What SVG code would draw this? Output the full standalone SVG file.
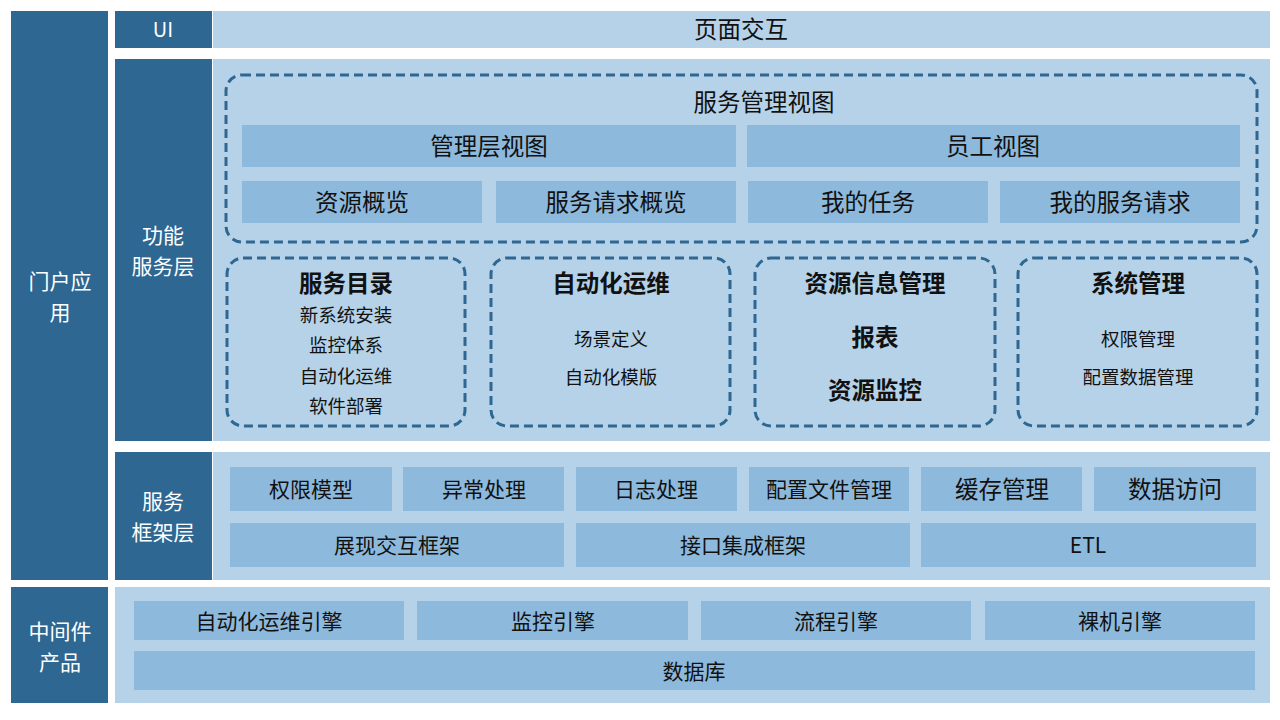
<svg xmlns="http://www.w3.org/2000/svg" width="1280" height="720" viewBox="0 0 1280 720">
<style>
.dk{fill:#2D6792}
.lt{fill:#B6D2E8}
.md{fill:#8DB9DC}
.dash{fill:none;stroke:#2D6792;stroke-width:3;stroke-dasharray:9 5}
text{font-family:"Noto Sans CJK SC","Noto Sans",sans-serif;text-anchor:middle;dominant-baseline:central;fill:#111}
.w{fill:#fff;font-size:21px}
.t24{font-size:23.5px}
.t21{font-size:21px}
.t18{font-size:18.5px}
.b{font-size:23.5px;font-weight:bold}
</style>
<rect width="1280" height="720" fill="#fff"/>
<g id="portal">
<rect class="dk" x="11" y="11" width="97" height="569"/>
<text class="w" x="60" y="280">门户应</text>
<text class="w" x="60" y="311">用</text>
</g>
<g id="ui-layer">
<rect class="dk" x="115" y="11" width="97" height="37"/>
<text class="w" x="163" y="28" style="font-size:20px">UI</text>
<rect class="lt" x="213" y="11" width="1057" height="37"/>
<text class="t24" x="741" y="28">页面交互</text>
</g>
<g id="func-layer">
<rect class="dk" x="115" y="59" width="97" height="382"/>
<text class="w" x="163" y="234">功能</text>
<text class="w" x="163" y="265">服务层</text>
<rect class="lt" x="213" y="59" width="1057" height="382"/>
</g>
<g id="service-view">
<rect class="dash" x="226" y="75" width="1031" height="167" rx="16"/>
<text class="t24" x="764" y="101">服务管理视图</text>
<rect class="md" x="242" y="125" width="494" height="42"/>
<text class="t24" x="489" y="145">管理层视图</text>
<rect class="md" x="747" y="125" width="493" height="42"/>
<text class="t24" x="993" y="145">员工视图</text>
<rect class="md" x="242" y="181" width="240" height="42"/>
<text class="t24" x="362" y="201">资源概览</text>
<rect class="md" x="496" y="181" width="240" height="42"/>
<text class="t24" x="616" y="201">服务请求概览</text>
<rect class="md" x="748" y="181" width="240" height="42"/>
<text class="t24" x="868" y="201">我的任务</text>
<rect class="md" x="1000" y="181" width="240" height="42"/>
<text class="t24" x="1120" y="201">我的服务请求</text>
</g>
<g id="catalog">
<rect class="dash" x="227" y="258" width="238" height="168" rx="16"/>
<text class="b" x="346" y="282">服务目录</text>
<text class="t18" x="346" y="314">新系统安装</text>
<text class="t18" x="346" y="344">监控体系</text>
<text class="t18" x="346" y="375">自动化运维</text>
<text class="t18" x="346" y="405">软件部署</text>
</g>
<g id="automation">
<rect class="dash" x="491" y="258" width="239" height="168" rx="16"/>
<text class="b" x="611" y="282">自动化运维</text>
<text class="t18" x="611" y="338">场景定义</text>
<text class="t18" x="611" y="376">自动化模版</text>
</g>
<g id="resource">
<rect class="dash" x="755" y="258" width="240" height="168" rx="16"/>
<text class="b" x="875" y="282">资源信息管理</text>
<text class="b" x="875" y="336">报表</text>
<text class="b" x="875" y="389">资源监控</text>
</g>
<g id="sysmgmt">
<rect class="dash" x="1018" y="258" width="239" height="168" rx="16"/>
<text class="b" x="1138" y="282">系统管理</text>
<text class="t18" x="1138" y="338">权限管理</text>
<text class="t18" x="1138" y="376">配置数据管理</text>
</g>
<g id="framework-layer">
<rect class="dk" x="115" y="452" width="97" height="128"/>
<text class="w" x="163" y="499.5">服务</text>
<text class="w" x="163" y="530.5">框架层</text>
<rect class="lt" x="213" y="452" width="1057" height="128"/>
<rect class="md" x="230" y="467" width="162" height="44"/>
<text class="t21" x="311" y="488">权限模型</text>
<rect class="md" x="403" y="467" width="161" height="44"/>
<text class="t21" x="484" y="488">异常处理</text>
<rect class="md" x="576" y="467" width="161" height="44"/>
<text class="t21" x="656" y="488">日志处理</text>
<rect class="md" x="749" y="467" width="160" height="44"/>
<text class="t21" x="829" y="488">配置文件管理</text>
<rect class="md" x="921" y="467" width="161" height="44"/>
<text class="t24" x="1002" y="488">缓存管理</text>
<rect class="md" x="1094" y="467" width="162" height="44"/>
<text class="t24" x="1175" y="488">数据访问</text>
<rect class="md" x="230" y="523" width="334" height="44"/>
<text class="t21" x="397" y="544">展现交互框架</text>
<rect class="md" x="576" y="523" width="334" height="44"/>
<text class="t21" x="743" y="544">接口集成框架</text>
<rect class="md" x="921" y="523" width="335" height="44"/>
<text class="t21" x="1088" y="544">ETL</text>
</g>
<g id="middleware">
<rect class="dk" x="11" y="587" width="97" height="116"/>
<text class="w" x="60" y="630">中间件</text>
<text class="w" x="60" y="661">产品</text>
<rect class="lt" x="115" y="587" width="1155" height="116"/>
<rect class="md" x="134" y="601" width="270" height="39"/>
<text class="t21" x="269" y="620">自动化运维引擎</text>
<rect class="md" x="417" y="601" width="271" height="39"/>
<text class="t21" x="553" y="620">监控引擎</text>
<rect class="md" x="701" y="601" width="270" height="39"/>
<text class="t21" x="836" y="620">流程引擎</text>
<rect class="md" x="985" y="601" width="270" height="39"/>
<text class="t21" x="1120" y="620">裸机引擎</text>
<rect class="md" x="134" y="651" width="1121" height="39"/>
<text class="t21" x="694" y="670">数据库</text>
</g>
<g id="connectors"></g>
</svg>
